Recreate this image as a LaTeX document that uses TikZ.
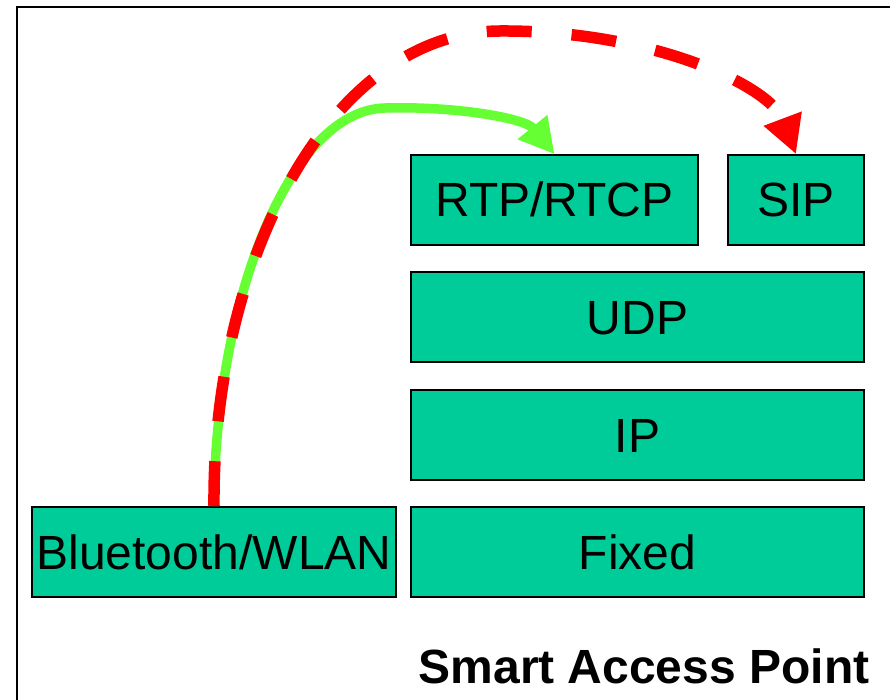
\documentclass[tikz,border=0pt]{standalone}
\usepackage{fontspec}
\setmainfont{Liberation Sans}
\usetikzlibrary{arrows.meta}
\definecolor{boxgreen}{HTML}{00CC99}
\definecolor{arrgreen}{HTML}{66FF33}
\definecolor{arrred}{HTML}{FF0000}
\begin{document}
\begin{tikzpicture}[x=1pt,y=-1pt,
  layer/.style={draw=black,line width=1.6pt,fill=boxgreen,inner sep=0pt,
    minimum height=90pt,text height=34pt,text depth=0pt,
    font=\fontsize{48}{57}\selectfont},
  greenarrow/.style={draw=arrgreen,line width=9.5pt,
    -{Triangle[length=35pt,width=36pt]}},
  redarrow/.style={draw=arrred,line width=11.5pt,dash pattern=on 45pt off 40pt,
    -{Triangle[length=38pt,width=38pt]}}]
\useasboundingbox (0,0) rectangle (890,700);
\fill[white] (0,0) rectangle (890,700);
\draw[line width=2pt] (17,700) -- (17,7) -- (890,7);
\node[layer,minimum width=287pt] (rtp) at (554.5,200) {RTP/RTCP};
\node[layer,minimum width=136pt] (sip) at (796,200) {SIP};
\node[layer,minimum width=453pt] (udp) at (637.5,317) {UDP};
\node[layer,minimum width=453pt] (ip) at (637.5,435) {IP};
\node[layer,minimum width=453pt] (fixed) at (637.5,552) {Fixed};
\node[layer,minimum width=364pt] (bt) at (214,552) {Bluetooth/WLAN};
\node[anchor=base east,font=\fontsize{48}{57}\selectfont\bfseries] (title) at (873,683) {Smart Access Point};
\draw[greenarrow] (bt.north) .. controls (215,300) and (290,110) .. (385,108)
  .. controls (455,106) and (525,118) .. (rtp.north);
\draw[redarrow] (bt.north) .. controls (212,260) and (330,32) .. (500,31)
  .. controls (650,30) and (770,85) .. (sip.north);
\end{tikzpicture}
\end{document}
